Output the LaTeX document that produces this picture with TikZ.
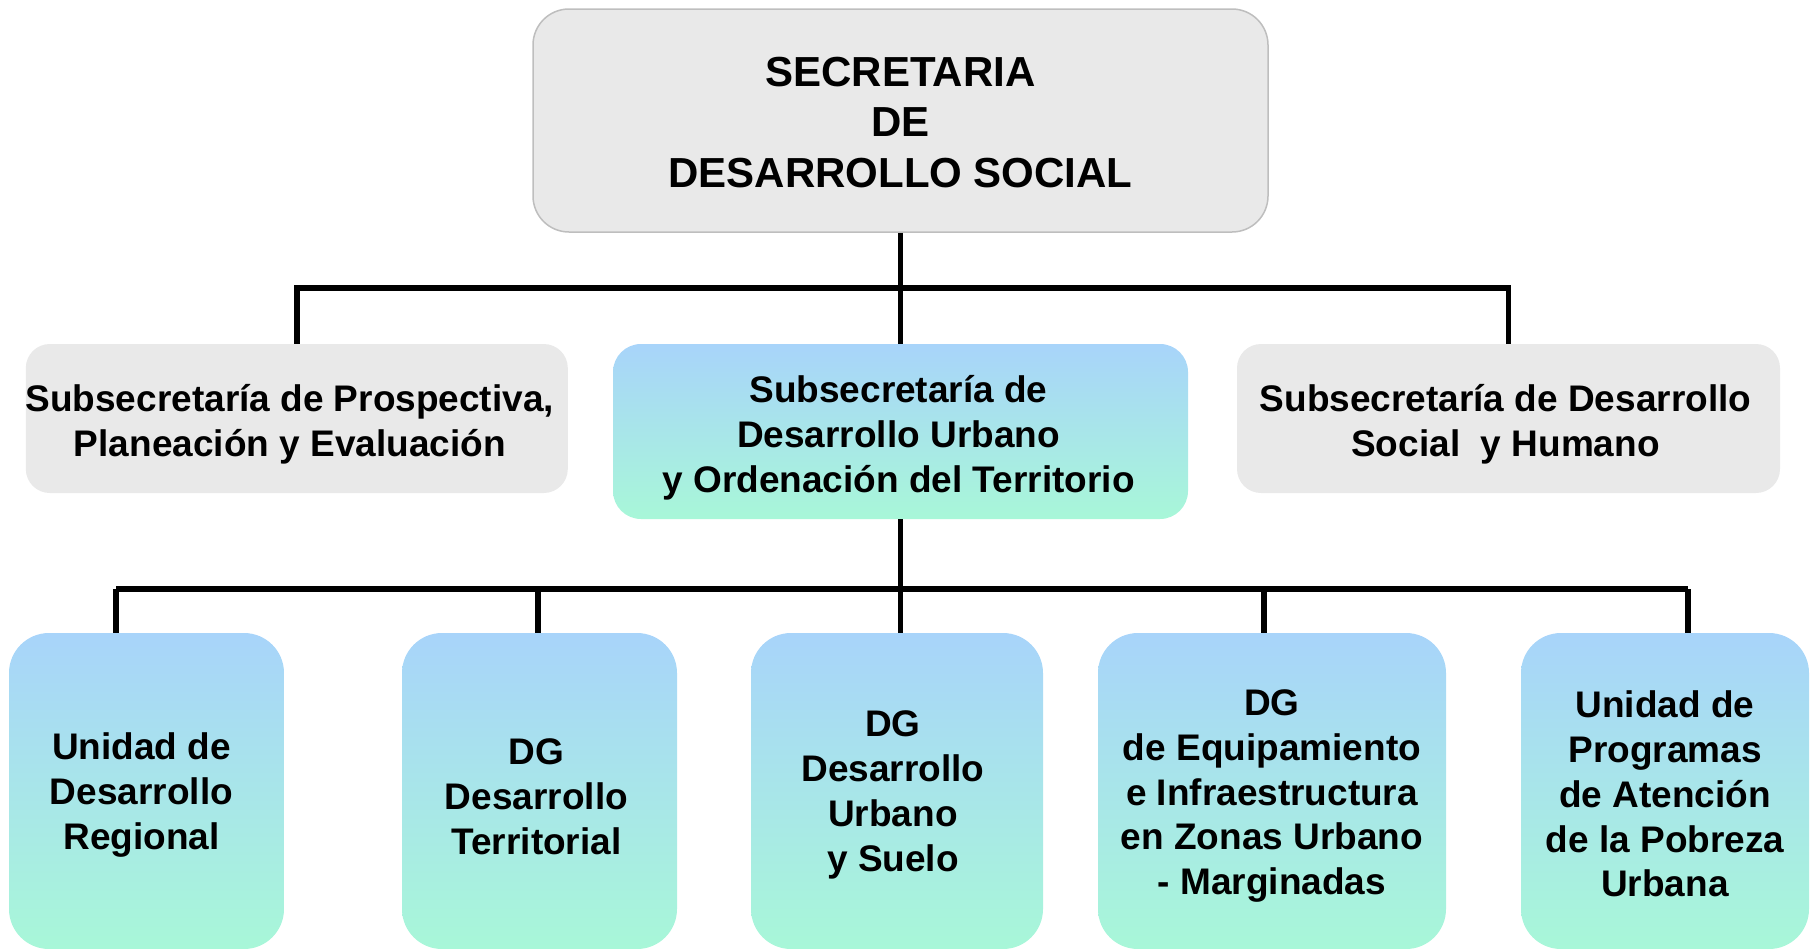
\documentclass[tikz,border=0pt]{standalone}
\usepackage{fontspec}
\setmainfont{Liberation Sans}
\usepackage{tikz}
\usetikzlibrary{positioning,calc}
\usepackage{xcolor}
\definecolor{boxgray}{RGB}{233,233,233}
\definecolor{edgegray}{RGB}{190,190,190}
\definecolor{skyblue}{RGB}{168,212,250}
\definecolor{mint}{RGB}{168,247,216}

\begin{document}
\begin{tikzpicture}[x=1pt, y=1pt,
    graybox/.style={rectangle, fill=boxgray, inner sep=0pt},
    tonebox/.style={rectangle, top color=skyblue, bottom color=mint, inner sep=0pt},
    lbl/.style={align=center, inner sep=0pt, font=\bfseries\fontsize{37}{44.8}\selectfont},
    link/.style={line width=5.5pt}]
    \useasboundingbox (0,0) rectangle (1818,-948);

    % Secretaria
    \node[graybox, draw=edgegray, line width=1.5pt, rounded corners=36pt,
        minimum width=735, minimum height=223] (sec) at (900.5,-120.5) {};
    \node[lbl, font=\bfseries\fontsize{42}{50.4}\selectfont] (sec-t) at ([yshift=-2]sec.center)
        {SECRETARIA\\DE\\DESARROLLO SOCIAL};

    % Subsecretarias
    \node[graybox, rounded corners=24pt, minimum width=542, minimum height=149] (subpp) at (296.8,-418.5) {};
    \node[lbl] (subpp-t) at ([xshift=-7,yshift=-6]subpp.center)
        {Subsecretaría de Prospectiva,\\Planeación y Evaluación};
    \node[tonebox, rounded corners=28pt, minimum width=575, minimum height=175] (subdu) at (900.5,-431.5) {};
    \node[lbl] (subdu-t) at ([xshift=-2,yshift=-6]subdu.center)
        {Subsecretaría de\\Desarrollo Urbano\\y Ordenación del Territorio};
    \node[graybox, rounded corners=24pt, minimum width=543, minimum height=149] (subsh) at (1508.5,-418.5) {};
    \node[lbl] (subsh-t) at ([xshift=-3,yshift=-6]subsh.center)
        {Subsecretaría de Desarrollo\\Social\ \ y Humano};

    % Direcciones
    \node[tonebox, rounded corners=40pt, minimum width=275, minimum height=316] (udr) at (146.5,-791) {};
    \node[lbl] (udr-t) at ([xshift=-5,yshift=-4]udr.center) {Unidad de\\Desarrollo\\Regional};
    \node[tonebox, rounded corners=40pt, minimum width=275, minimum height=316] (dgdt) at (539.5,-791) {};
    \node[lbl] (dgdt-t) at ([xshift=-3,yshift=-6]dgdt.center) {DG\\Desarrollo\\Territorial};
    \node[tonebox, rounded corners=40pt, minimum width=292, minimum height=316] (dgdu) at (897,-791) {};
    \node[lbl] (dgdu-t) at ([xshift=-4,yshift=-4]dgdu.center) {DG\\Desarrollo\\Urbano\\y Suelo};
    \node[tonebox, rounded corners=40pt, minimum width=348, minimum height=316] (dgei) at (1272,-791) {};
    \node[lbl] (dgei-t) at ([yshift=-5]dgei.center)
        {DG\\de Equipamiento\\e Infraestructura\\en Zonas Urbano\\- Marginadas};
    \node[tonebox, rounded corners=40pt, minimum width=288, minimum height=316] (upap) at (1665,-791) {};
    \node[lbl] (upap-t) at ([yshift=-3]upap.center)
        {Unidad de\\Programas\\de Atención\\de la Pobreza\\Urbana};

    % Upper connectors
    \coordinate (bus1) at (900.5,-288);
    \draw[link] (sec.south) -- (subdu.north);
    \draw[link] (subpp.north) |- (bus1) -| (subsh.north);

    % Lower connectors
    \coordinate (tap1) at (116,-589);
    \coordinate (tap2) at (538,-589);
    \coordinate (tap3) at (900.5,-589);
    \coordinate (tap4) at (1264,-589);
    \coordinate (tap5) at (1688,-589);
    \draw[link] (subdu.south) -- (tap3);
    \draw[link] (tap1) -- (tap5);
    \draw[link] (tap1) -- (tap1 |- udr.north);
    \draw[link] (tap2) -- (tap2 |- dgdt.north);
    \draw[link] (tap3) -- (tap3 |- dgdu.north);
    \draw[link] (tap4) -- (tap4 |- dgei.north);
    \draw[link] (tap5) -- (tap5 |- upap.north);
\end{tikzpicture}
\end{document}
